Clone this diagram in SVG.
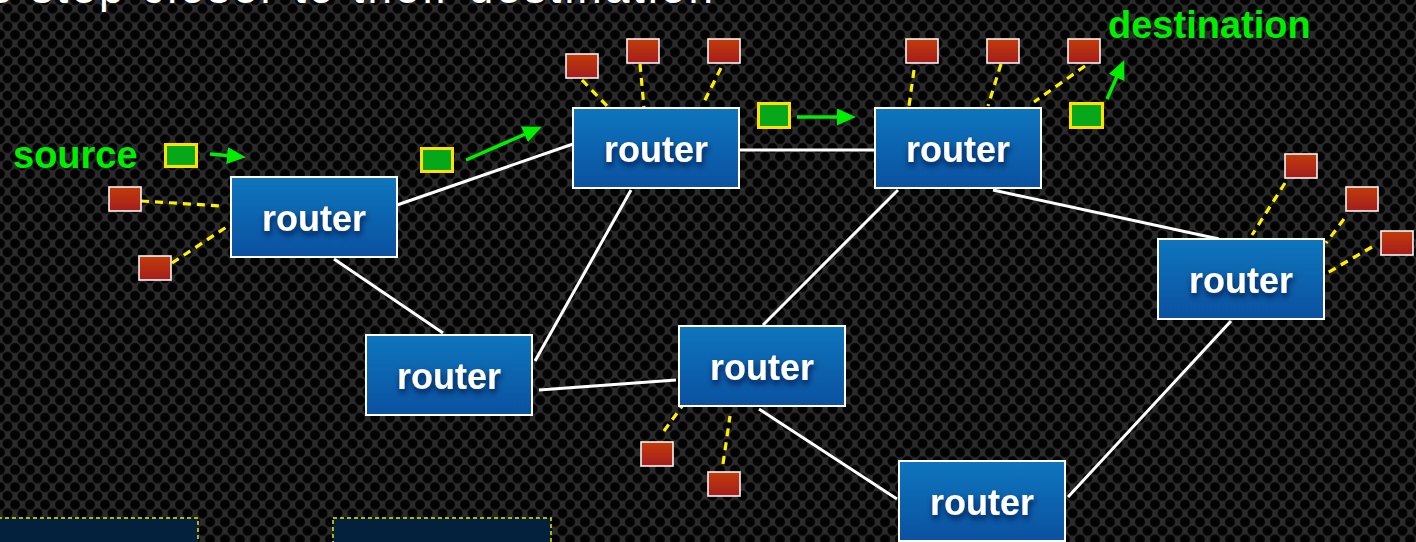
<svg xmlns="http://www.w3.org/2000/svg" width="1416" height="542" viewBox="0 0 1416 542">
<defs>
  <radialGradient id="hole" cx="0.5" cy="0.5" r="0.5">
    <stop offset="0" stop-color="#000"/>
    <stop offset="0.8" stop-color="#040404"/>
    <stop offset="1" stop-color="#1a1a1a"/>
  </radialGradient>
  <pattern id="perf" width="15" height="17.4" patternUnits="userSpaceOnUse">
    <rect width="15" height="17.4" fill="#2b2b2b"/>
    <circle cx="0" cy="0" r="5.3" fill="url(#hole)"/>
    <circle cx="15" cy="0" r="5.3" fill="url(#hole)"/>
    <circle cx="7.5" cy="8.7" r="5.3" fill="url(#hole)"/>
    <circle cx="0" cy="17.4" r="5.3" fill="url(#hole)"/>
    <circle cx="15" cy="17.4" r="5.3" fill="url(#hole)"/>
  </pattern>
  <linearGradient id="blue" x1="0" y1="0" x2="0" y2="1">
    <stop offset="0" stop-color="#0e76bd"/>
    <stop offset="1" stop-color="#0a51a1"/>
  </linearGradient>
  <linearGradient id="red" x1="0" y1="0" x2="0" y2="1">
    <stop offset="0" stop-color="#c23c0a"/>
    <stop offset="1" stop-color="#a51d1d"/>
  </linearGradient>
  <filter id="tshadow" x="-20%" y="-30%" width="140%" height="180%">
    <feGaussianBlur in="SourceAlpha" stdDeviation="3"/>
    <feOffset dx="1" dy="4" result="b"/>
    <feFlood flood-color="#001030" flood-opacity="0.75"/>
    <feComposite in2="b" operator="in"/>
    <feMerge><feMergeNode/><feMergeNode in="SourceGraphic"/></feMerge>
  </filter>
  <marker id="ah" markerWidth="19" markerHeight="17" refX="6" refY="8.5" orient="auto" markerUnits="userSpaceOnUse">
    <path d="M0,0 L19,8.5 L0,17 z" fill="#00ee00"/>
  </marker>
  <style>
    .router rect { fill: url(#blue); stroke: #ffffff; stroke-width: 2; }
    .router text { font-family: "Liberation Sans", Arial, sans-serif; font-weight: bold; font-size: 36px; fill: #ffffff; text-anchor: middle; filter: url(#tshadow); }
    .host { fill: url(#red); stroke: #f4f4f4; stroke-width: 1.6; }
    .packet { fill: #06a81a; stroke: #ffe000; stroke-width: 3; }
    .link { stroke: #ffffff; stroke-width: 3; fill: none; }
    .dash { stroke: #fff000; stroke-width: 3.2; stroke-dasharray: 8 6; fill: none; }
    .move { stroke: #00ee00; stroke-width: 3.5; fill: none; marker-end: url(#ah); }
    .lbl { font-family: "Liberation Sans", Arial, sans-serif; font-weight: bold; font-size: 38px; fill: #00ee00; }
    .box { fill: #03213c; stroke: #f0e800; stroke-width: 1.5; stroke-dasharray: 4 3; }
  </style>
</defs>

<rect width="1416" height="542" fill="url(#perf)"/>

<text x="-12" y="3" textLength="725" lengthAdjust="spacing" font-family="Liberation Sans, Arial, sans-serif" font-size="44" fill="#ffffff">e step closer to their destination</text>

<g id="connectors">
  <line class="link" x1="397" y1="205" x2="573" y2="144"/>
  <line class="link" x1="334" y1="259" x2="443" y2="333"/>
  <line class="link" x1="631" y1="190" x2="535" y2="361"/>
  <line class="link" x1="740" y1="150" x2="875" y2="150"/>
  <line class="link" x1="539" y1="390" x2="676" y2="380"/>
  <line class="link" x1="898" y1="190" x2="763" y2="325"/>
  <line class="link" x1="993" y1="190" x2="1219" y2="239"/>
  <line class="link" x1="1231" y1="321" x2="1068" y2="497"/>
  <line class="link" x1="759" y1="409" x2="897" y2="499"/>

  <line class="dash" x1="141" y1="201" x2="222" y2="206"/>
  <line class="dash" x1="172" y1="263" x2="228" y2="226"/>
  <line class="dash" x1="582" y1="80" x2="608" y2="107"/>
  <line class="dash" x1="640" y1="64" x2="644" y2="108"/>
  <line class="dash" x1="721" y1="68" x2="703" y2="104"/>
  <line class="dash" x1="914" y1="70" x2="909" y2="106"/>
  <line class="dash" x1="1001" y1="64" x2="988" y2="106"/>
  <line class="dash" x1="1085" y1="66" x2="1034" y2="102"/>
  <line class="dash" x1="1285" y1="183" x2="1252" y2="235"/>
  <line class="dash" x1="1344" y1="219" x2="1326" y2="243"/>
  <line class="dash" x1="1372" y1="247" x2="1327" y2="273"/>
  <line class="dash" x1="664" y1="431" x2="683" y2="405"/>
  <line class="dash" x1="723" y1="464" x2="730" y2="416"/>

  <line class="move" x1="210" y1="154" x2="233" y2="156"/>
  <line class="move" x1="466" y1="160" x2="530" y2="132"/>
  <line class="move" x1="797" y1="117" x2="843" y2="117"/>
  <line class="move" x1="1107" y1="99" x2="1119" y2="72"/>
</g>

<g id="router1" class="router"><rect x="231" y="177" width="166" height="80"/><text x="314" y="231">router</text></g>
<g id="router2" class="router"><rect x="573" y="108" width="166" height="80"/><text x="656" y="162">router</text></g>
<g id="router3" class="router"><rect x="875" y="108" width="166" height="80"/><text x="958" y="162">router</text></g>
<g id="router4" class="router"><rect x="1158" y="239" width="166" height="80"/><text x="1241" y="293">router</text></g>
<g id="router5" class="router"><rect x="366" y="335" width="166" height="80"/><text x="449" y="389">router</text></g>
<g id="router6" class="router"><rect x="679" y="326" width="166" height="80"/><text x="762" y="380">router</text></g>
<g id="router7" class="router"><rect x="899" y="461" width="166" height="80"/><text x="982" y="515">router</text></g>

<g id="hosts">
  <rect id="host1" class="host" x="109" y="187" width="32" height="24"/>
  <rect id="host2" class="host" x="139" y="256" width="32" height="24"/>
  <rect id="host3" class="host" x="566" y="54" width="32" height="24"/>
  <rect id="host4" class="host" x="627" y="39" width="32" height="24"/>
  <rect id="host5" class="host" x="708" y="39" width="32" height="24"/>
  <rect id="host6" class="host" x="906" y="39" width="32" height="24"/>
  <rect id="host7" class="host" x="987" y="39" width="32" height="24"/>
  <rect id="host8" class="host" x="1068" y="39" width="32" height="24"/>
  <rect id="host9" class="host" x="1285" y="154" width="32" height="24"/>
  <rect id="host10" class="host" x="1346" y="187" width="32" height="24"/>
  <rect id="host11" class="host" x="1381" y="231" width="32" height="24"/>
  <rect id="host12" class="host" x="641" y="442" width="32" height="24"/>
  <rect id="host13" class="host" x="708" y="472" width="32" height="24"/>
</g>

<g id="packets">
  <rect id="packet1" class="packet" x="165.5" y="144.5" width="31" height="22"/>
  <rect id="packet2" class="packet" x="421.5" y="148.5" width="31" height="23"/>
  <rect id="packet3" class="packet" x="758.5" y="103.5" width="31" height="24"/>
  <rect id="packet4" class="packet" x="1070.5" y="103.5" width="32" height="24"/>
</g>

<g id="labels">
  <text id="source" class="lbl" x="13" y="168">source</text>
  <text id="destination" class="lbl" x="1108" y="38">destination</text>
</g>

<g id="boxes">
  <rect id="box1" class="box" x="-2" y="518" width="200" height="30"/>
  <rect id="box2" class="box" x="333" y="518" width="218" height="30"/>
</g>
</svg>
